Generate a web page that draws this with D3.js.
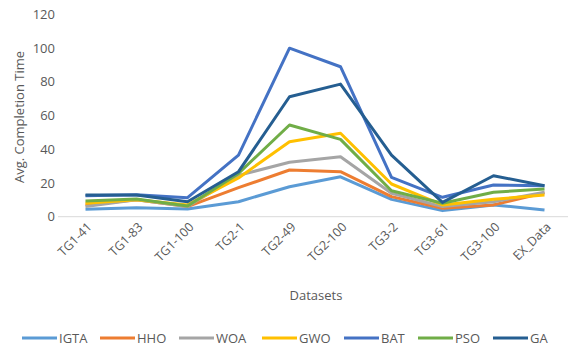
<!DOCTYPE html>
<html>
<head>
<meta charset="utf-8">
<script src="https://cdn.jsdelivr.net/npm/d3@7"></script>
<style>
  body { margin: 0; background: #fff; }
  text { font-family: "Open Sans", "Liberation Sans", sans-serif; fill: #595959; }
</style>
</head>
<body>
<div id="chart"></div>
<script>
// categories on the x axis
const datasets = ['TG1-41', 'TG1-83', 'TG1-100', 'TG2-1', 'TG2-49', 'TG2-100', 'TG3-2', 'TG3-61', 'TG3-100', 'EX_Data'];

// avg. completion time per algorithm
const igta = [4.4, 5.3, 4.6, 8.9, 17.8, 23.7, 10.3, 3.6, 7, 4];
const hho  = [7, 10, 6, 17.2, 27.7, 26.7, 11.9, 5, 7, 14.2];
const woa  = [6, 10, 6, 24.5, 32.3, 35.6, 13.9, 6, 8.9, 14.5];
const gwo  = [8, 10, 7, 23, 44.5, 49.5, 19.4, 7, 10.3, 12.9];
const bat  = [12.5, 13, 11.3, 36.6, 100, 89, 23.4, 11.5, 18.8, 18.4];
const pso  = [9.3, 10.5, 6.3, 25.7, 54.4, 45.9, 15.4, 8, 14.5, 16.4];
const ga   = [12.9, 12.9, 8.9, 26.7, 71.2, 78.7, 36.6, 8.5, 24.3, 18.4];

const seriesNames = ['IGTA', 'HHO', 'WOA', 'GWO', 'BAT', 'PSO', 'GA'];
const seriesValues = [igta, hho, woa, gwo, bat, pso, ga];
const colors = ['#5B9BD5', '#ED7D31', '#A5A5A5', '#FFC000', '#4472C4', '#70AD47', '#255E91'];

const yTicks = [0, 20, 40, 60, 80, 100, 120];

const width = 570, height = 347;
const margin = {top: 14, right: 0, bottom: 130, left: 60};

const svg = d3.select('#chart').append('svg')
    .attr('width', width)
    .attr('height', height);

const x = d3.scaleBand()
    .domain(datasets)
    .range([margin.left, width - margin.right]);

const y = d3.scaleLinear()
    .domain([0, 120])
    .range([216.7, 14.5]);

// y axis labels
svg.append('g')
    .selectAll('text')
    .data(yTicks)
  .join('text')
    .attr('x', 55)
    .attr('y', d => y(d))
    .attr('dy', '0.35em')
    .attr('text-anchor', 'end')
    .style('font-size', '13px')
    .text(d => d);

// baseline
svg.append('line')
    .attr('x1', margin.left - 2)
    .attr('x2', 568)
    .attr('y1', y(0))
    .attr('y2', y(0))
    .attr('stroke', '#D9D9D9')
    .attr('stroke-width', 1);

// x tick labels, rotated
svg.append('g')
    .selectAll('text')
    .data(datasets)
  .join('text')
    .attr('transform', d => `translate(${x(d) + x.bandwidth() / 2 + 4},${y(0) + 8}) rotate(-45)`)
    .attr('text-anchor', 'end')
    .attr('dy', '0.35em')
    .style('font-size', '12.5px')
    .text(d => d);

// axis titles
svg.append('text')
    .attr('x', 316)
    .attr('y', 300)
    .attr('text-anchor', 'middle')
    .style('font-size', '13px')
    .text('Datasets');

svg.append('text')
    .attr('transform', 'translate(24,117) rotate(-90)')
    .attr('text-anchor', 'middle')
    .style('font-size', '13px')
    .text('Avg. Completion Time');

// lines
const line = d3.line()
    .x((d, i) => x(datasets[i]) + x.bandwidth() / 2)
    .y(d => y(d));

svg.append('g')
    .selectAll('path')
    .data(seriesValues)
  .join('path')
    .attr('d', line)
    .attr('fill', 'none')
    .attr('stroke', (d, i) => colors[i])
    .attr('stroke-width', 3)
    .attr('stroke-linejoin', 'round');

// legend
const legendX = [22, 100, 179, 262, 344, 418, 493];
const legend = svg.append('g')
    .selectAll('g')
    .data(seriesNames)
  .join('g')
    .attr('transform', (d, i) => `translate(${legendX[i]},338)`);

legend.append('line')
    .attr('x1', 0)
    .attr('x2', 35)
    .attr('stroke', (d, i) => colors[i])
    .attr('stroke-width', 3);

legend.append('text')
    .attr('x', 37)
    .attr('dy', '0.35em')
    .style('font-size', '13px')
    .text(d => d);
</script>
</body>
</html>
